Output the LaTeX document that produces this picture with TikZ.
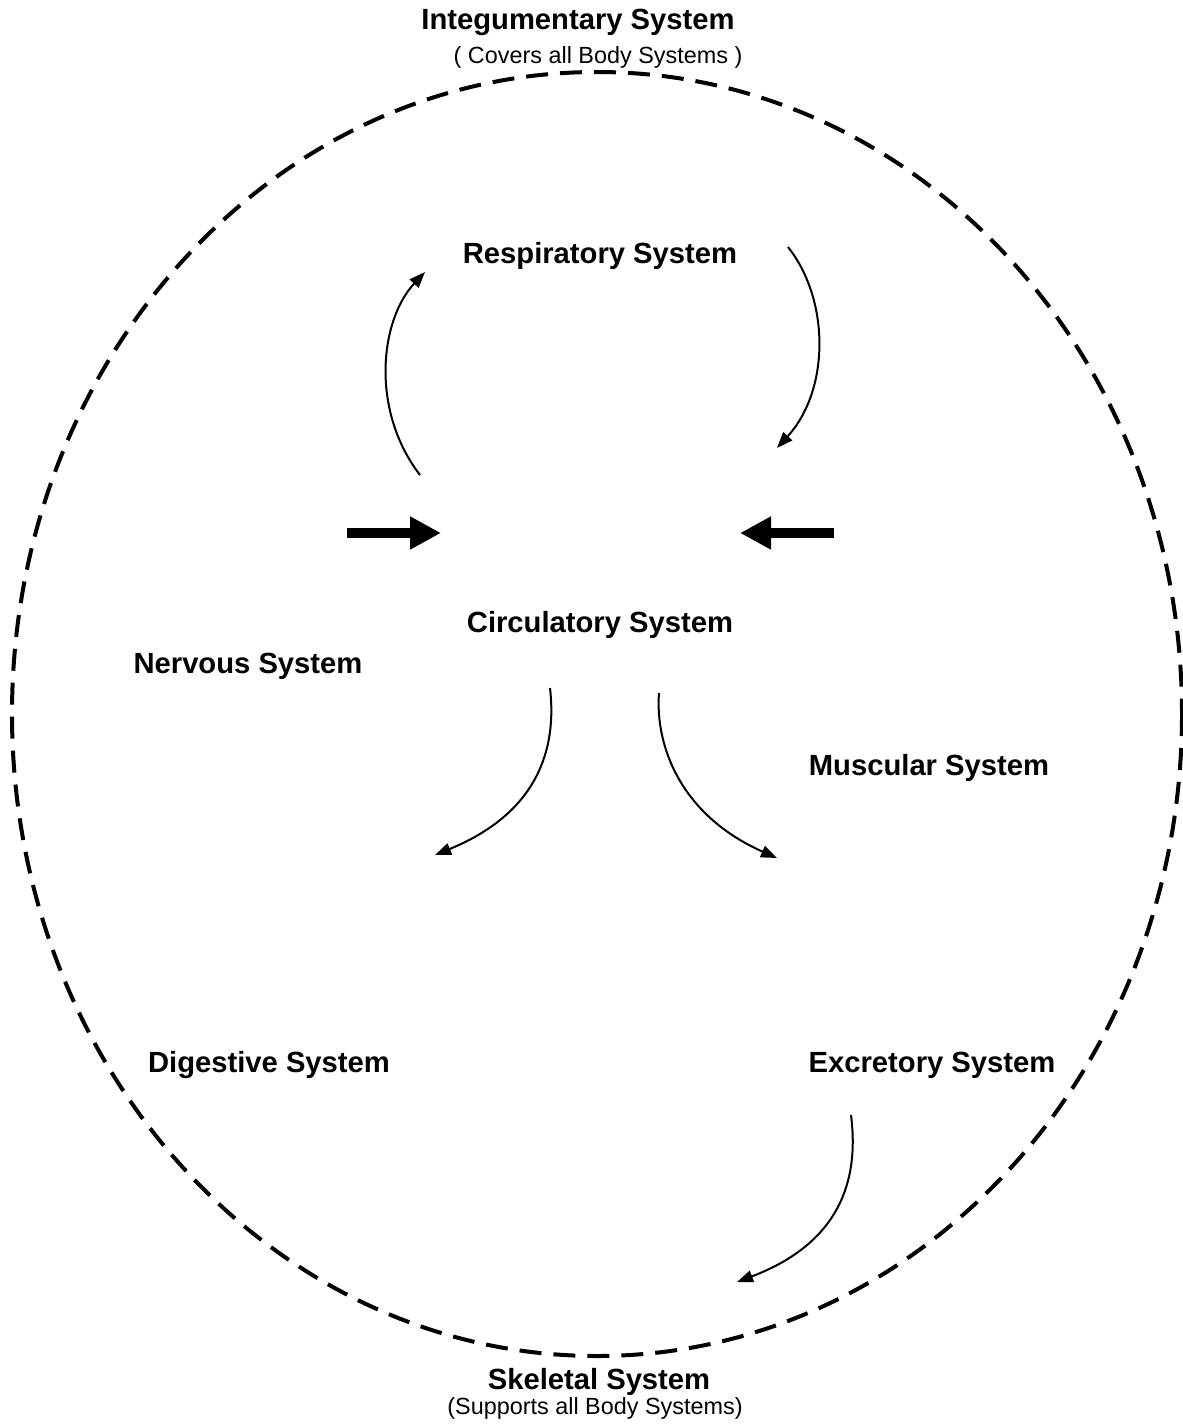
\documentclass[tikz,border=0pt]{standalone}
\usepackage{fontspec}
\setmainfont{Liberation Sans}
\usetikzlibrary{arrows.meta}

\begin{document}
\begin{tikzpicture}[x=0.5pt, y=-0.5pt]
    % Define node styles
    \tikzstyle{sysnode}=[inner sep=0pt, font=\fontsize{14.6}{17}\selectfont\bfseries]
    \tikzstyle{subnode}=[inner sep=0pt, font=\fontsize{11.7}{14}\selectfont]
    \tikzstyle{flowarrow}=[line width=1pt, -{Triangle[length=8pt, width=6pt]}]
    \tikzstyle{bigarrow}=[line width=5pt, -{Triangle[length=15.5pt, width=15.5pt]}]
    \tikzstyle{skinline}=[line width=2pt, dash pattern=on 11pt off 6pt]

    \useasboundingbox (0,0) rectangle (1183,1424);

    % Outer layer: skin round everything
    \draw[skinline] (597,714) ellipse [x radius=585, y radius=642];
    \node[sysnode] (integ) at (578, 22) {Integumentary System};
    \node[subnode] (integsub) at (598, 57) {( Covers all Body Systems )};

    % Body systems
    \node[sysnode] (resp) at (600, 256) {Respiratory System};
    \node[sysnode] (circ) at (600, 625) {Circulatory System};
    \node[sysnode] (nerv) at (248, 666) {Nervous System};
    \node[sysnode] (musc) at (929, 768) {Muscular System};
    \node[sysnode] (dige) at (269, 1065) {Digestive System};
    \node[sysnode] (excr) at (932, 1065) {Excretory System};
    \node[sysnode] (skel) at (599, 1382) {Skeletal System};
    \node[subnode] (skelsub) at (595, 1408) {(Supports all Body Systems)};

    % Arrow end points
    \coordinate (respL0) at (420, 475);
    \coordinate (respL1) at (425, 272);
    \coordinate (respR0) at (788, 247);
    \coordinate (respR1) at (777, 448);
    \coordinate (circL0) at (550, 688);
    \coordinate (circL1) at (435, 855);
    \coordinate (circR0) at (659, 693);
    \coordinate (circR1) at (777, 858);
    \coordinate (excr0) at (851, 1115);
    \coordinate (excr1) at (737, 1282);
    \coordinate (pushL0) at (347, 533);
    \coordinate (pushL1) at (441, 533);
    \coordinate (pushR0) at (834, 533);
    \coordinate (pushR1) at (740, 533);

    % Loop through the lungs
    \draw[flowarrow] (respL0) .. controls (370, 410) and (380, 320) .. (respL1);
    \draw[flowarrow] (respR0) .. controls (830, 300) and (830, 390) .. (respR1);

    % Blood going out
    \draw[flowarrow] (circL0) .. controls (556, 740) and (545, 810) .. (circL1);
    \draw[flowarrow] (circR0) .. controls (655, 745) and (680, 815) .. (circR1);
    \draw[flowarrow] (excr0) .. controls (858, 1170) and (848, 1240) .. (excr1);

    % Thick arrows into the centre
    \draw[bigarrow] (pushL0) -- (pushL1);
    \draw[bigarrow] (pushR0) -- (pushR1);

\end{tikzpicture}
\end{document}
